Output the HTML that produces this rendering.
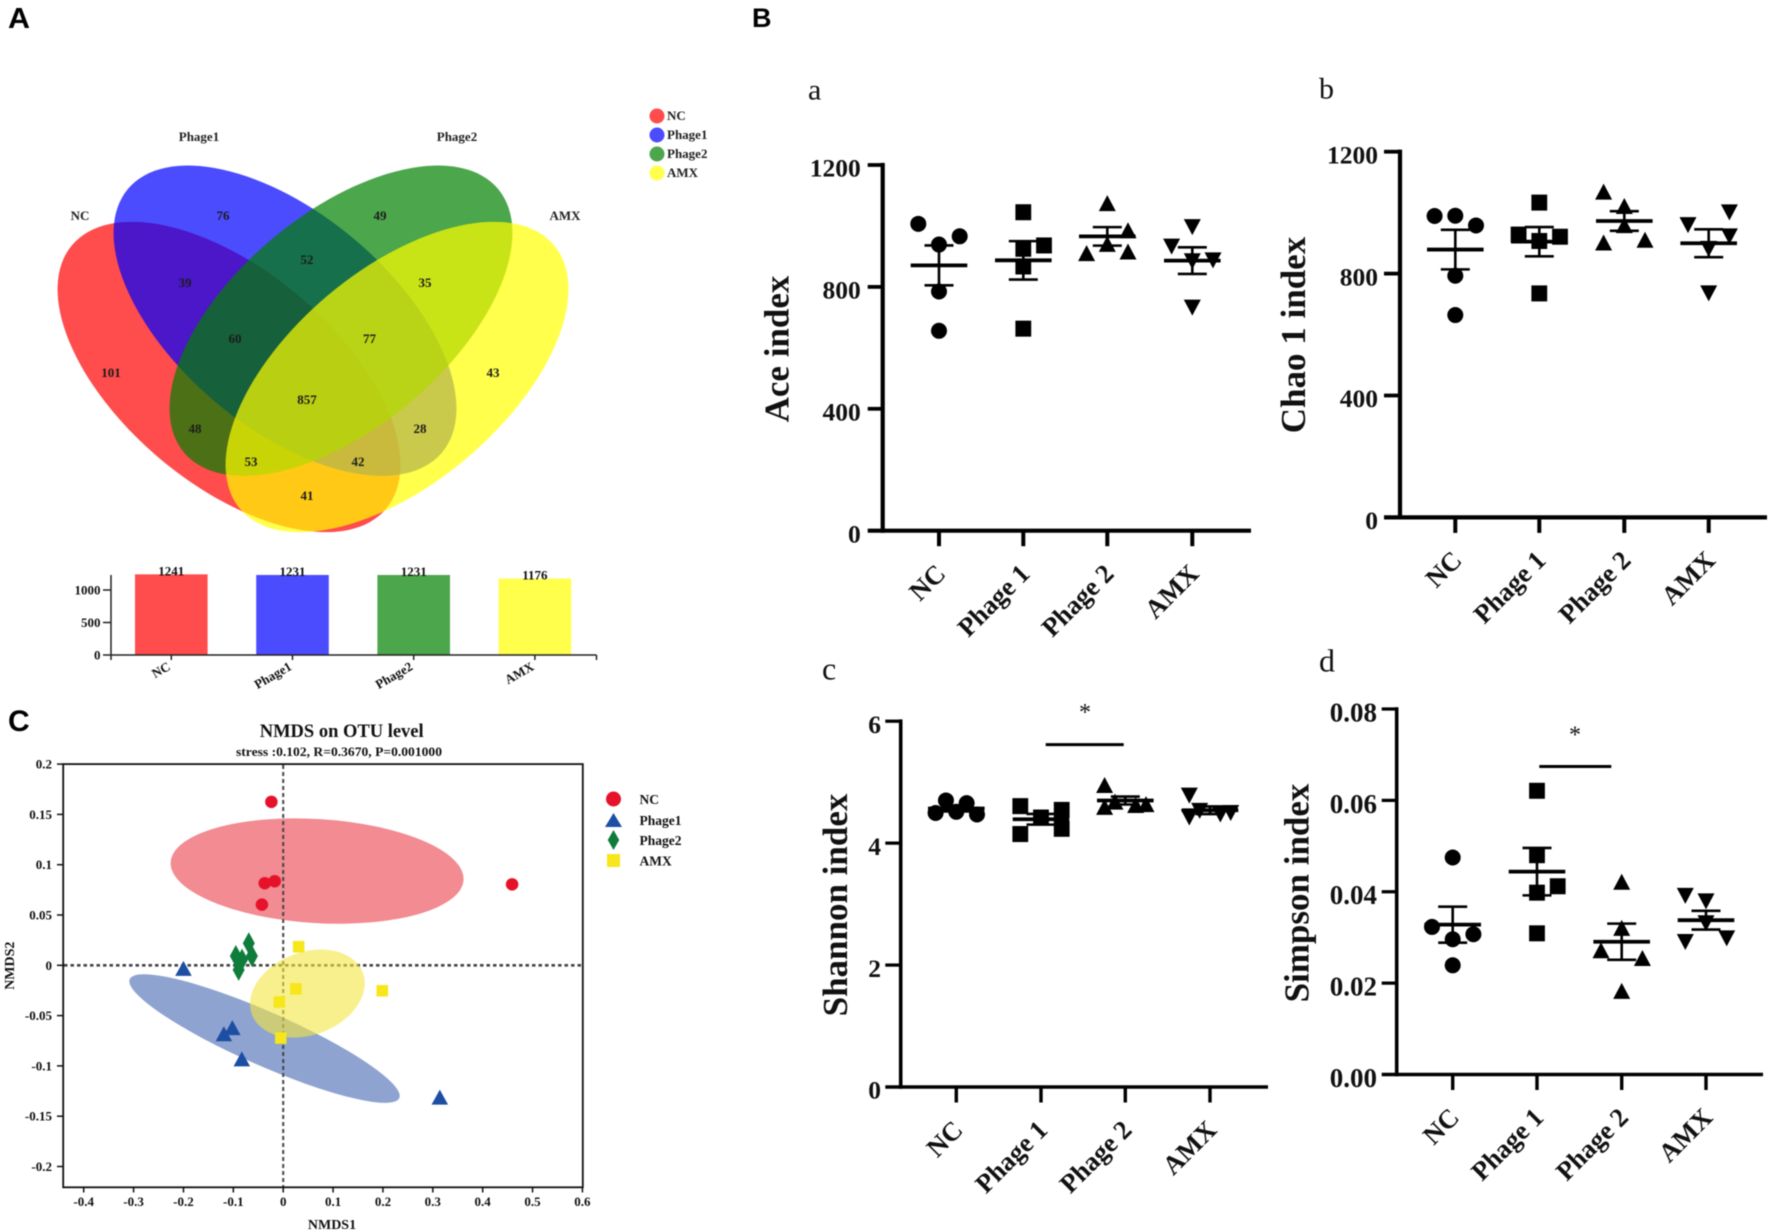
<!DOCTYPE html>
<html lang="en">
<head>
<meta charset="utf-8">
<title>Venn, alpha diversity and NMDS figure</title>
<style>
  html, body { margin: 0; padding: 0; background: #fff; }
  body { width: 1772px; height: 1232px; overflow: hidden; }
  svg { display: block; position: absolute; left: 0; top: 0; filter: blur(0.5px); }
  text { font-family: "Liberation Serif", serif; fill: #111; }
  .b { font-weight: bold; }
  .sans { font-family: "Liberation Sans", sans-serif; font-weight: bold; fill: #000; }
  .vn { font-size: 13px; font-weight: bold; text-anchor: middle; fill: #1c1c1c; }
  .vl { font-size: 13px; font-weight: bold; text-anchor: middle; fill: #222; }
  .lg { font-size: 13px; font-weight: bold; fill: #222; }
</style>
</head>
<body>
<svg id="fig" xmlns="http://www.w3.org/2000/svg" width="1772" height="1232" viewBox="0 0 1772 1232">
  <rect width="1772" height="1232" fill="#fff"/>

  <text class="sans" x="8" y="28" font-size="29" textLength="22" lengthAdjust="spacingAndGlyphs">A</text>
  <text class="sans" x="752" y="27" font-size="27">B</text>
  <text class="sans" x="8" y="731" font-size="30">C</text>

  <g id="venn">
    <ellipse cx="229" cy="377" rx="205" ry="107" transform="rotate(40 229 377)" fill="rgba(255,0,0,0.7)"/>
    <ellipse cx="285" cy="320.7" rx="205" ry="107" transform="rotate(40 285 320.7)" fill="rgba(0,0,255,0.7)"/>
    <ellipse cx="341" cy="320.7" rx="205" ry="107" transform="rotate(-40 341 320.7)" fill="rgba(0,128,0,0.7)"/>
    <ellipse cx="397" cy="377" rx="205" ry="107" transform="rotate(-40 397 377)" fill="rgba(255,255,0,0.7)"/>
    <text class="vl" x="199" y="141">Phage1</text>
    <text class="vl" x="457" y="141">Phage2</text>
    <text class="vl" x="80" y="220">NC</text>
    <text class="vl" x="565" y="220">AMX</text>
    <text class="vn" x="223" y="220">76</text>
    <text class="vn" x="380" y="220">49</text>
    <text class="vn" x="307" y="264">52</text>
    <text class="vn" x="185" y="287">39</text>
    <text class="vn" x="425" y="287">35</text>
    <text class="vn" x="235" y="343">60</text>
    <text class="vn" x="369.5" y="343">77</text>
    <text class="vn" x="111" y="377">101</text>
    <text class="vn" x="493" y="377">43</text>
    <text class="vn" x="307" y="404">857</text>
    <text class="vn" x="195" y="433">48</text>
    <text class="vn" x="420" y="433">28</text>
    <text class="vn" x="251" y="466">53</text>
    <text class="vn" x="358" y="466">42</text>
    <text class="vn" x="307" y="500">41</text>
  </g>

  <g id="venn-legend">
    <circle cx="657" cy="116" r="7.5" fill="#ff4c4c"/>
    <circle cx="657" cy="135" r="7.5" fill="#4c4cff"/>
    <circle cx="657" cy="154" r="7.5" fill="#4ca64c"/>
    <circle cx="657" cy="173" r="7.5" fill="#ffff4c"/>
    <text class="lg" x="667" y="120">NC</text>
    <text class="lg" x="667" y="139">Phage1</text>
    <text class="lg" x="667" y="158">Phage2</text>
    <text class="lg" x="667" y="177">AMX</text>
  </g>

  <g id="bars"></g>

  <g id="nmds">
    <text class="b" x="341.7" y="737" font-size="18.5" text-anchor="middle">NMDS on OTU level</text>
    <text class="b" x="339" y="756" font-size="12.5" text-anchor="middle" textLength="206" lengthAdjust="spacingAndGlyphs">stress :0.102, R=0.3670, P=0.001000</text>
    <text class="b" x="332" y="1229" font-size="14" text-anchor="middle">NMDS1</text>
    <text class="b" x="0" y="0" font-size="14" text-anchor="middle" transform="translate(14 965.7) rotate(-90)">NMDS2</text>
    <text class="b" x="639.5" y="804" font-size="13.5">NC</text>
    <text class="b" x="639.5" y="825" font-size="13.5">Phage1</text>
    <text class="b" x="639.5" y="845" font-size="13.5">Phage2</text>
    <text class="b" x="639.5" y="865.5" font-size="13.5">AMX</text>
  </g>

  <g id="dots">
    <text x="808" y="99.5" font-size="30">a</text>
    <text x="1319" y="98.7" font-size="30">b</text>
    <text x="822" y="679.6" font-size="32">c</text>
    <text x="1319" y="671.3" font-size="32">d</text>
  </g>
</svg>

<script>
/* ---------- set-size bar chart data ---------- */
const barCategories = ['NC', 'Phage1', 'Phage2', 'AMX'];
const barValues = [1241, 1231, 1231, 1176];
const barTicks = [0, 500, 1000];

/* ---------- NMDS data ---------- */
const nmdsXTicks = [-0.4, -0.3, -0.2, -0.1, 0, 0.1, 0.2, 0.3, 0.4, 0.5, 0.6];
const nmdsYTicks = [0.2, 0.15, 0.1, 0.05, 0, -0.05, -0.1, -0.15, -0.2];
const ncX = [-0.0237, -0.037, -0.017, -0.0427, 0.459];
const ncY = [0.1625, 0.0816, 0.0836, 0.0603, 0.0805];
const phage1X = [-0.2, -0.119, -0.102, -0.083, 0.314];
const phage1Y = [-0.003, -0.068, -0.062, -0.093, -0.131];
const phage2X = [-0.069, -0.095, -0.0627, -0.0825, -0.0893];
const phage2Y = [0.0219, 0.0092, 0.0092, 0.0056, -0.0045];
const amxX = [0.031, 0.0255, 0.1987, -0.0077, -0.0048];
const amxY = [0.0185, -0.0234, -0.0253, -0.0365, -0.0723];
/* confidence ellipses in data units: centre x, centre y */
const ellipseNames = ['nc', 'phage1', 'amx'];
const ellipseCenterX = [0.068, -0.0375, 0.0485];
const ellipseCenterY = [0.0937, -0.0728, -0.0281];

/* ---------- alpha-diversity data (per group, five samples) ---------- */
const groupLabels = ['NC', 'Phage 1', 'Phage 2', 'AMX'];
const aceTicks = [0, 400, 800, 1200];
const aceValues = [
  [1007, 966, 939, 785, 656],
  [1045, 936, 925, 867, 663],
  [1075, 986, 941, 911, 916],
  [996, 932, 884, 887, 732]
];
const aceColumns = [
  [-1, 1, 0, 0, 0],
  [0, 1, 0, 0, 0],
  [0, 1, 0, -1, 1],
  [0, -1, 0, 1, 0]
];
const chaoTicks = [0, 400, 800, 1200];
const chaoValues = [
  [989, 990, 958, 793, 664],
  [1033, 928, 921, 907, 735],
  [1069, 1022, 959, 902, 911],
  [959, 1001, 922, 881, 735]
];
const chaoColumns = [
  [-1, 0, 1, 0, 0],
  [0, -1, 1, 0, 0],
  [-1, 0, 0, -1, 1],
  [-1, 1, 1, 0, 0]
];
const shannonTicks = [0, 2, 4, 6];
const shannonValues = [
  [4.495, 4.70, 4.514, 4.656, 4.47],
  [4.607, 4.545, 4.42, 4.235, 4.149],
  [4.954, 4.68, 4.625, 4.64, 4.595],
  [4.78, 4.42, 4.53, 4.47, 4.495]
];
const shannonColumns = [
  [-1, -0.5, 0, 0.5, 1],
  [-1, 1, 0, 1, -1],
  [-1, -0.5, 0.5, 1, -1],
  [-1, -1, -0.5, 0.5, 1]
];
const simpsonTicks = [0, 0.02, 0.04, 0.06, 0.08];
const simpsonTickLabels = ['0.00', '0.02', '0.04', '0.06', '0.08'];
const simpsonValues = [
  [0.0475, 0.0323, 0.0307, 0.0296, 0.0239],
  [0.0621, 0.048, 0.0412, 0.0398, 0.0309],
  [0.0422, 0.0321, 0.0272, 0.0255, 0.0183],
  [0.0391, 0.0379, 0.0331, 0.029, 0.0298]
];
const simpsonColumns = [
  [0, -1, 1, 0, 0],
  [0, 0, 1, 0, 0],
  [0, 0, -1, 1, 0],
  [-1, 0, 0, -1, 1]
];

/* ---------- helpers ---------- */
const NS = 'http://www.w3.org/2000/svg';
function make(parent, tag, props, content) {
  const node = document.createElementNS(NS, tag);
  for (const key in props) node.setAttribute(key, props[key]);
  if (content !== undefined) node.textContent = content;
  parent.appendChild(node);
  return node;
}
function markerShape(parent, shape, cx, cy, w, h, fill) {
  if (shape === 'circle') return make(parent, 'ellipse', { cx: cx, cy: cy, rx: w / 2, ry: h / 2, fill: fill });
  if (shape === 'square') return make(parent, 'rect', { x: cx - w / 2, y: cy - h / 2, width: w, height: h, fill: fill });
  let pts;
  if (shape === 'up') pts = [[cx, cy - h / 2], [cx + w / 2, cy + h / 2], [cx - w / 2, cy + h / 2]];
  if (shape === 'down') pts = [[cx, cy + h / 2], [cx + w / 2, cy - h / 2], [cx - w / 2, cy - h / 2]];
  if (shape === 'diamond') pts = [[cx, cy - h / 2], [cx + w / 2, cy], [cx, cy + h / 2], [cx - w / 2, cy]];
  return make(parent, 'polygon', { points: pts.map(p => p.join(',')).join(' '), fill: fill });
}

/* ---------- set-size bars ---------- */
(function () {
  const root = document.getElementById('bars');
  const barFills = ['#ff4c4c', '#4c4cff', '#4ca64c', '#ffff4c'];
  const xBand = i => 171.3 + i * 121.2;
  const yVal = v => 655 - v * 0.065;
  barCategories.forEach((cat, i) => {
    const top = yVal(barValues[i]);
    const bar = make(root, 'rect', { x: xBand(i) - 36.3, y: top, width: 72.6, height: 655 - top, fill: barFills[i] });
    
    
    const val = make(root, 'text', { x: xBand(i), y: top + 1, 'font-size': 13, 'font-weight': 'bold', 'text-anchor': 'middle' }, String(barValues[i]));
    
    
    const tick = make(root, 'line', { x1: xBand(i), x2: xBand(i), y1: 655, y2: 660, stroke: '#222', 'stroke-width': 1.5 });
    
    
    const lab = make(root, 'text', { x: 0, y: 0, 'font-size': 13, 'font-weight': 'bold', 'text-anchor': 'end', transform: 'translate(' + xBand(i) + ' 669) rotate(-30)' }, cat);
    
    
  });
  const axes = make(root, 'path', { d: 'M111 575V655M111 655H596.5M596.5 655V660M111 655V660', fill: 'none', stroke: '#222', 'stroke-width': 1.5 });
  
  
  barTicks.forEach(v => {
    const t = make(root, 'line', { x1: 103, x2: 111, y1: yVal(v), y2: yVal(v), stroke: '#222', 'stroke-width': 1.5 });
    
    
    const l = make(root, 'text', { x: 100.5, y: yVal(v) + 4.5, 'font-size': 13, 'font-weight': 'bold', 'text-anchor': 'end' }, String(v));
    
    
  });
})();

/* ---------- NMDS ---------- */
(function () {
  const root = document.getElementById('nmds');
  const xS = v => 283.2 + 498.7 * v;
  const yS = v => 965.3 - 1006 * v;
  const ellipseStyle = {
    nc: { fill: '#f28b92', rx: 146.7, ry: 52, rot: 3.5 },
    phage1: { fill: '#8ea3d0', rx: 147.3, ry: 26.8, rot: 23.8 },
    amx: { fill: 'rgba(243,230,63,0.6)', rx: 59.3, ry: 41.4, rot: -20.6 }
  };
  const ellipseNodes = ellipseNames.map((name, i) => {
    const s = ellipseStyle[name];
    const cx = xS(ellipseCenterX[i]);
    const cy = yS(ellipseCenterY[i]);
    const e = make(root, 'ellipse', { cx: cx, cy: cy, rx: s.rx, ry: s.ry, fill: s.fill, transform: 'rotate(' + s.rot + ' ' + cx + ' ' + cy + ')' });
    
    
    return e;
  });
  const h = make(root, 'line', { x1: 64, x2: 582, y1: yS(0), y2: yS(0), stroke: '#444', 'stroke-width': 2.6, 'stroke-dasharray': '3.5 3' });
  
  
  const v0 = make(root, 'line', { x1: xS(0), x2: xS(0), y1: 765, y2: 1187, stroke: '#444', 'stroke-width': 2, 'stroke-dasharray': '4 3' });
  
  
  root.appendChild(ellipseNodes[ellipseNodes.length - 1]);
  const frame = make(root, 'rect', { x: 63.2, y: 764.1, width: 519.6, height: 423.2, fill: 'none', stroke: '#111', 'stroke-width': 1.8 });
  
  
  nmdsXTicks.forEach(t => {
    const m = make(root, 'line', { x1: xS(t), x2: xS(t), y1: 1187.3, y2: 1192.5, stroke: '#111', 'stroke-width': 1.5 });
    
    
    const l = make(root, 'text', { x: xS(t), y: 1206, 'font-size': 13, 'font-weight': 'bold', 'text-anchor': 'middle' }, String(t));
    
    
  });
  nmdsYTicks.forEach(t => {
    const m = make(root, 'line', { x1: 57, x2: 63.2, y1: yS(t), y2: yS(t), stroke: '#111', 'stroke-width': 1.5 });
    
    
    const l = make(root, 'text', { x: 52, y: yS(t) + 4.5, 'font-size': 13, 'font-weight': 'bold', 'text-anchor': 'end' }, String(t));
    
    
  });
  const seriesList = [
    { name: 'nc', xs: ncX, ys: ncY, shape: 'circle', w: 12.5, h: 12.5, fill: '#e6122a', lw: 15, lh: 15, ly: 799 },
    { name: 'phage1', xs: phage1X, ys: phage1Y, shape: 'up', w: 16.5, h: 15, fill: '#1c4ea3', lw: 17, lh: 14, ly: 820 },
    { name: 'phage2', xs: phage2X, ys: phage2Y, shape: 'diamond', w: 12, h: 22, fill: '#0e7c3a', lw: 11.5, lh: 20, ly: 840 },
    { name: 'amx', xs: amxX, ys: amxY, shape: 'square', w: 11.5, h: 11.5, fill: '#f6e61a', lw: 13, lh: 13, ly: 860.5 }
  ];
  seriesList.forEach(s => {
    s.xs.forEach((xv, i) => {
      const p = markerShape(root, s.shape, xS(xv), yS(s.ys[i]), s.w, s.h, s.fill);
      
      
    });
    const k = markerShape(root, s.shape, 613.5, s.ly, s.lw, s.lh, s.fill);
    
    
  });
})();

/* ---------- alpha-diversity dot plots ---------- */
function drawDotPanel(cfg) {
  const root = document.getElementById('dots');
  const g = make(root, 'g', {});
  
  
  const maxTick = cfg.ticks[cfg.ticks.length - 1];
  const yS = v => cfg.y0 - (cfg.y0 - cfg.yTop) * v / maxTick;
  const shapes = ['circle', 'square', 'up', 'down'];
  const markerW = { circle: 16, square: 15.8, up: 17, down: 17 };
  const spread = 20.7;
  const lw = cfg.lw;

  const yAxis = make(g, 'line', { x1: cfg.axisX, x2: cfg.axisX, y1: cfg.yTop - lw / 2, y2: cfg.y0 + lw / 2, stroke: '#000', 'stroke-width': lw });
  
  
  const xAxis = make(g, 'line', { x1: cfg.tickLeft, x2: cfg.xEnd, y1: cfg.y0, y2: cfg.y0, stroke: '#000', 'stroke-width': lw });
  
  

  cfg.ticks.forEach((t, i) => {
    if (t !== 0) {
      const m = make(g, 'line', { x1: cfg.tickLeft, x2: cfg.axisX, y1: yS(t), y2: yS(t), stroke: '#000', 'stroke-width': lw * 0.9 });
      
      
    }
    const text = cfg.tickLabels ? cfg.tickLabels[i] : String(t);
    const l = make(g, 'text', { x: cfg.tickLabelX, y: yS(t) + cfg.tickFont * 0.46, 'font-size': cfg.tickFont, 'font-weight': 'bold', 'text-anchor': 'end' }, text);
    
    
  });

  const title = make(g, 'text', { x: 0, y: 0, 'font-size': 35, 'font-weight': 'bold', 'text-anchor': 'middle', transform: 'translate(' + (cfg.titleX + 11) + ' ' + cfg.titleY + ') rotate(-90)' }, cfg.title);
  
  

  cfg.groups.forEach((gx, gi) => {
    const tick = make(g, 'line', { x1: gx, x2: gx, y1: cfg.y0, y2: cfg.y0 + 15.5, stroke: '#000', 'stroke-width': lw * 0.95 });
    
    
    const lab = make(g, 'text', { x: 0, y: 0, 'font-size': 26.5, 'font-weight': 'bold', 'text-anchor': 'end', transform: 'translate(' + (gx + 8) + ' ' + (cfg.y0 + 44.5) + ') rotate(-45)' }, groupLabels[gi]);
    
    

    const vals = cfg.values[gi];
    const shape = shapes[gi];
    vals.forEach((v, i) => {
      const p = markerShape(g, shape, gx + cfg.columns[gi][i] * spread, yS(v), markerW[shape], 16, '#000');
      
      
    });

    const mean = vals.reduce((a, b) => a + b, 0) / vals.length;
    const sd = Math.sqrt(vals.reduce((a, b) => a + (b - mean) * (b - mean), 0) / (vals.length - 1));
    const sem = sd / Math.sqrt(vals.length);
    const mLine = make(g, 'line', { x1: gx - 28.3, x2: gx + 28.3, y1: yS(mean), y2: yS(mean), stroke: '#000', 'stroke-width': 3.8 });
    
    
    const err = make(g, 'path', {
      d: 'M' + gx + ' ' + yS(mean + sem) + 'V' + yS(mean - sem) +
         'M' + (gx - 14.5) + ' ' + yS(mean + sem) + 'H' + (gx + 14.5) +
         'M' + (gx - 14.5) + ' ' + yS(mean - sem) + 'H' + (gx + 14.5),
      fill: 'none', stroke: '#000', 'stroke-width': 2.6
    });
    
    
  });

  if (cfg.sig) {
    const bar = make(g, 'line', { x1: cfg.sig.x1, x2: cfg.sig.x2, y1: cfg.sig.y, y2: cfg.sig.y, stroke: '#000', 'stroke-width': 3 });
    
    
    const star = make(g, 'text', { x: (cfg.sig.x1 + cfg.sig.x2) / 2 + cfg.sig.dx, y: cfg.sig.starY, 'font-size': 24, 'text-anchor': 'middle' }, '*');
    
    
  }
}

drawDotPanel({ key: 'ace', title: 'Ace index', ticks: aceTicks, values: aceValues, columns: aceColumns,
  axisX: 882.7, tickLeft: 867.7, xEnd: 1251, yTop: 165, y0: 530.7, lw: 4.2,
  groups: [939, 1023.3, 1107.3, 1192.3], tickLabelX: 860.7, tickFont: 25.5, titleX: 777.7, titleY: 349 });
drawDotPanel({ key: 'chao', title: 'Chao 1 index', ticks: chaoTicks, values: chaoValues, columns: chaoColumns,
  axisX: 1400, tickLeft: 1384, xEnd: 1767, yTop: 151.7, y0: 517.4, lw: 4.2,
  groups: [1455.3, 1539.3, 1624.3, 1708.7], tickLabelX: 1378, tickFont: 25.5, titleX: 1294, titleY: 335 });
drawDotPanel({ key: 'shannon', title: 'Shannon index', ticks: shannonTicks, values: shannonValues, columns: shannonColumns,
  axisX: 900.7, tickLeft: 885.3, xEnd: 1268, yTop: 721.2, y0: 1087, lw: 3.6,
  groups: [956.3, 1041, 1125.3, 1210], tickLabelX: 881, tickFont: 25.5, titleX: 835.8, titleY: 905,
  sig: { x1: 1045.7, x2: 1123.7, y: 744.6, dx: 0.3, starY: 720 } });
drawDotPanel({ key: 'simpson', title: 'Simpson index', ticks: simpsonTicks, tickLabels: simpsonTickLabels, values: simpsonValues, columns: simpsonColumns,
  axisX: 1396.7, tickLeft: 1381.7, xEnd: 1763, yTop: 709, y0: 1074.5, lw: 3.6,
  groups: [1452.7, 1537, 1621.7, 1706], tickLabelX: 1377, tickFont: 27, titleX: 1297.5, titleY: 893,
  sig: { x1: 1539.3, x2: 1611.3, y: 766.5, dx: -0.3, starY: 742.5 } });
</script>
</body>
</html>
